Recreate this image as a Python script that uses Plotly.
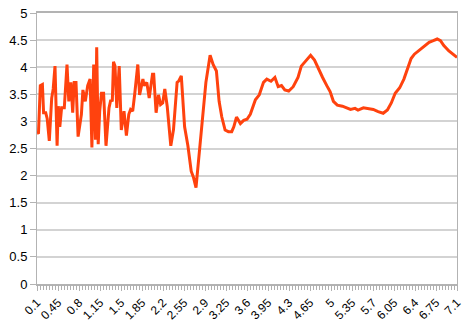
import plotly.graph_objects as go

# positions along the category axis (index steps of 0.05 from 0.1)
idx = [0, 0.5, 1.1, 1.8, 2.2, 2.9, 3.4, 4.1, 4.9, 5.4, 6.0, 6.7, 7.1, 7.6, 8.2, 9.1,
       10.0, 10.6, 11.3, 11.9, 12.4, 13.0, 13.7, 14.8, 15.3, 16.1, 16.9, 17.7, 18.3,
       18.9, 19.5, 19.9, 20.4, 20.9, 21.5, 22.2, 23.0, 24.0, 24.6, 25.1, 25.5, 26.0,
       26.6, 27.4, 28.1, 29.0, 29.8, 30.6, 31.2, 31.9, 32.6, 33.6, 34.2, 35.3, 35.7,
       36.6, 37.4, 38.5, 38.9, 39.7, 40.5, 41.2, 41.9, 42.6, 43.4, 44.6, 45.5, 46.7,
       47.3, 48.1, 49.2, 50.3, 51.4, 52.2, 53.0, 54.2, 55.2, 56.3, 57.7, 58.7, 59.8,
       60.7, 61.6, 62.7, 63.8, 64.9, 65.6, 66.5, 67.8, 68.9, 70.0, 71.1, 72.8, 74.1,
       75.5, 76.6, 78.0, 79.3, 80.4, 81.5, 82.6, 83.9, 85.4, 87.0, 88.1, 89.7, 91.2,
       92.5, 93.8, 95.2, 96.6, 97.7, 98.8, 100.1, 101.8, 103.4, 104.5, 106.0, 107.0,
       108.8, 110.5, 112.1, 113.7, 115.4, 116.8, 118.1, 119.4, 120.9, 122.3, 123.6,
       124.7, 125.8, 127.4, 129.1, 130.7, 132.1, 133.4, 134.5, 135.6, 137.3, 138.9,
       140.0]
values = [2.78, 2.79, 3.66, 3.68, 3.16, 3.16, 3.05, 2.64, 3.43, 3.6, 4.02, 2.55, 3.28,
          2.9, 3.25, 3.25, 4.05, 3.37, 3.72, 3.16, 3.72, 3.72, 2.72, 3.13, 3.58, 3.37,
          3.66, 3.78, 2.52, 4.05, 2.66, 4.37, 2.58, 3.19, 3.52, 3.52, 2.55, 3.25, 3.4,
          3.37, 4.1, 4.02, 3.25, 4.02, 2.84, 3.19, 2.74, 3.13, 3.22, 3.19, 3.52, 4.05,
          3.49, 3.78, 3.66, 3.72, 3.43, 3.87, 3.87, 3.16, 3.49, 3.31, 3.34, 3.6, 3.28,
          2.55, 2.85, 3.72, 3.75, 3.84, 2.9, 2.55, 2.08, 1.96, 1.78, 2.46, 3.16, 3.72,
          4.22, 4.05, 3.93, 3.37, 3.08, 2.84, 2.81, 2.81, 2.9, 3.08, 2.96, 3.02, 3.04,
          3.13, 3.4, 3.49, 3.72, 3.78, 3.74, 3.81, 3.64, 3.66, 3.58, 3.56, 3.64, 3.81,
          4.02, 4.13, 4.22, 4.13, 3.96, 3.81, 3.66, 3.55, 3.37, 3.3, 3.28, 3.24, 3.22,
          3.24, 3.21, 3.25, 3.23, 3.22, 3.18, 3.15, 3.21, 3.34, 3.52, 3.62, 3.78, 3.99,
          4.16, 4.24, 4.31, 4.4, 4.46, 4.49, 4.52, 4.49, 4.4, 4.3, 4.22, 4.18]

x_start = 0.1
x_step = 0.05
tick_labels = ["0.1", "0.45", "0.8", "1.15", "1.5", "1.85", "2.2", "2.55", "2.9", "3.25",
               "3.6", "3.95", "4.3", "4.65", "5", "5.35", "5.7", "6.05", "6.4", "6.75", "7.1"]
y_ticks = [0, 0.5, 1, 1.5, 2, 2.5, 3, 3.5, 4, 4.5, 5]
y_labels = ["0", "0.5", "1", "1.5", "2", "2.5", "3", "3.5", "4", "4.5", "5"]

xs = [round(x_start + x_step * i, 4) for i in idx]
tick_vals = [float(t) for t in tick_labels]

fig = go.Figure()
# invisible carrier trace for the dense tick axis
fig.add_trace(go.Scatter(x=xs, y=values, mode="lines", xaxis="x2",
                         line=dict(color="rgba(0,0,0,0)", width=0),
                         hoverinfo="skip", showlegend=False))
fig.add_trace(go.Scatter(x=xs, y=values, mode="lines",
                         line=dict(color="#ff420e", width=3), showlegend=False))

axis_grey = "#b3b3b3"
fig.update_layout(
    width=470, height=328,
    margin=dict(l=37, r=6, t=8, b=39),
    paper_bgcolor="white", plot_bgcolor="white",
    font=dict(family="Liberation Sans, Arial, sans-serif", color="#000000"),
    xaxis=dict(range=[0.1, 7.1], tickmode="array", tickvals=tick_vals, ticktext=tick_labels,
               tickangle=-45, tickfont=dict(size=12), ticks="outside", ticklen=5,
               tickcolor=axis_grey, showgrid=False, zeroline=False,
               showline=True, linecolor=axis_grey, linewidth=2, mirror=True),
    xaxis2=dict(range=[0.1, 7.1], overlaying="x", anchor="y", side="bottom",
                tickmode="linear", tick0=0.1, dtick=x_step, showticklabels=False,
                ticks="outside", ticklen=5, tickwidth=1, tickcolor="#b0b0b0",
                showgrid=False, zeroline=False, showline=False),
    yaxis=dict(range=[0, 5], tickmode="array", tickvals=y_ticks, ticktext=y_labels,
               tickfont=dict(size=13), ticks="outside", ticklen=6, tickcolor=axis_grey,
               showgrid=True, gridcolor="#d3d3d3", gridwidth=1.5, zeroline=False,
               showline=True, linecolor=axis_grey, linewidth=1, mirror=True),
)

fig.write_html("out.html")
